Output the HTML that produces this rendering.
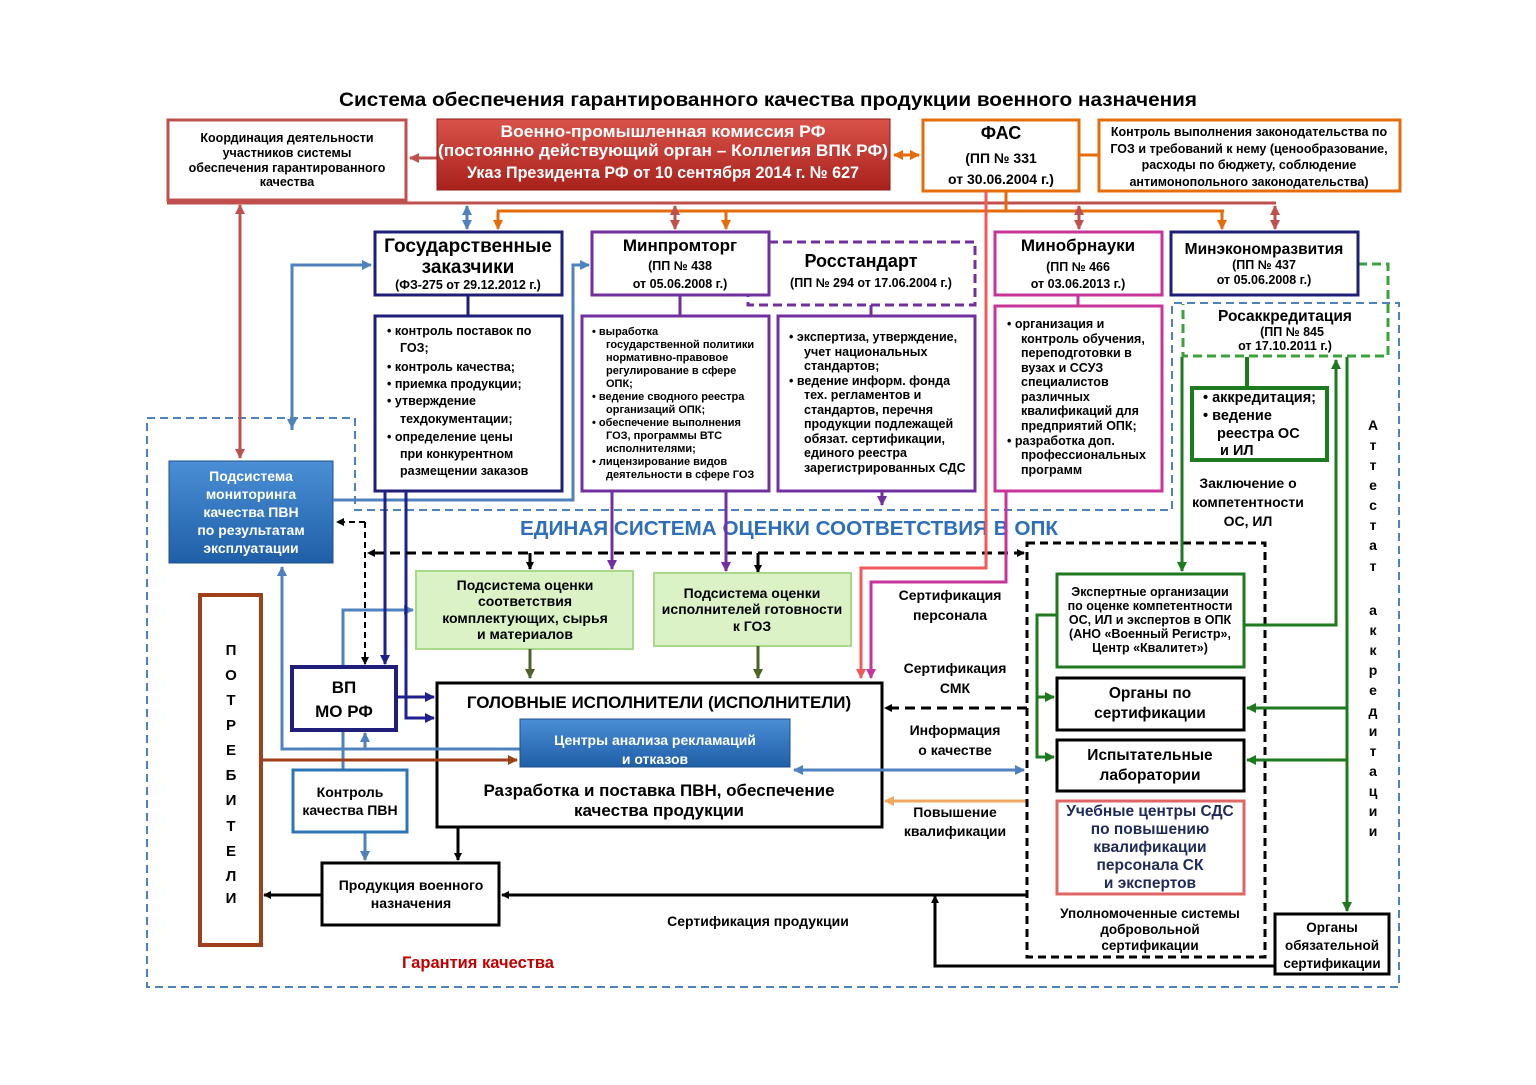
<!DOCTYPE html>
<html><head><meta charset="utf-8"><style>
html,body{margin:0;padding:0;background:#fff;}
svg{display:block;font-family:"Liberation Sans Narrow","Liberation Sans",sans-serif;font-weight:bold;}
text{text-anchor:middle;}
.l{text-anchor:start;}
</style></head><body>
<svg width="1536" height="1085" viewBox="0 0 1536 1085" xmlns="http://www.w3.org/2000/svg">
<defs>
<linearGradient id="gr" x1="0" y1="0" x2="0" y2="1"><stop offset="0" stop-color="#d9534a"/><stop offset="1" stop-color="#a8211c"/></linearGradient>
<linearGradient id="gb" x1="0" y1="0" x2="0" y2="1"><stop offset="0" stop-color="#4a8fd6"/><stop offset="1" stop-color="#1f5fa8"/></linearGradient>
<marker id="mk" markerWidth="8" markerHeight="8" refX="7" refY="4" orient="auto-start-reverse" markerUnits="userSpaceOnUse"><path d="M0,0 L8,4 L0,8 Z" fill="#000"/></marker>
<marker id="mb" markerWidth="10" markerHeight="10" refX="9" refY="5" orient="auto-start-reverse" markerUnits="userSpaceOnUse"><path d="M0,0 L10,5 L0,10 Z" fill="#4f81bd"/></marker>
<marker id="mn" markerWidth="10" markerHeight="10" refX="9" refY="5" orient="auto-start-reverse" markerUnits="userSpaceOnUse"><path d="M0,0 L10,5 L0,10 Z" fill="#1f1f8f"/></marker>
<marker id="mr" markerWidth="10" markerHeight="10" refX="9" refY="5" orient="auto-start-reverse" markerUnits="userSpaceOnUse"><path d="M0,0 L10,5 L0,10 Z" fill="#c0504d"/></marker>
<marker id="mo" markerWidth="10" markerHeight="10" refX="9" refY="5" orient="auto-start-reverse" markerUnits="userSpaceOnUse"><path d="M0,0 L10,5 L0,10 Z" fill="#e46c0a"/></marker>
<marker id="mp" markerWidth="10" markerHeight="10" refX="9" refY="5" orient="auto-start-reverse" markerUnits="userSpaceOnUse"><path d="M0,0 L10,5 L0,10 Z" fill="#7030a0"/></marker>
<marker id="mm" markerWidth="10" markerHeight="10" refX="9" refY="5" orient="auto-start-reverse" markerUnits="userSpaceOnUse"><path d="M0,0 L10,5 L0,10 Z" fill="#c8359a"/></marker>
<marker id="mpk" markerWidth="10" markerHeight="10" refX="9" refY="5" orient="auto-start-reverse" markerUnits="userSpaceOnUse"><path d="M0,0 L10,5 L0,10 Z" fill="#f05a5a"/></marker>
<marker id="mg" markerWidth="10" markerHeight="10" refX="9" refY="5" orient="auto-start-reverse" markerUnits="userSpaceOnUse"><path d="M0,0 L10,5 L0,10 Z" fill="#1e7a1e"/></marker>
<marker id="mol" markerWidth="10" markerHeight="10" refX="9" refY="5" orient="auto-start-reverse" markerUnits="userSpaceOnUse"><path d="M0,0 L10,5 L0,10 Z" fill="#4f6228"/></marker>
<marker id="mbr" markerWidth="10" markerHeight="10" refX="9" refY="5" orient="auto-start-reverse" markerUnits="userSpaceOnUse"><path d="M0,0 L10,5 L0,10 Z" fill="#a0401a"/></marker>
<marker id="mlo" markerWidth="10" markerHeight="10" refX="9" refY="5" orient="auto-start-reverse" markerUnits="userSpaceOnUse"><path d="M0,0 L10,5 L0,10 Z" fill="#f0a860"/></marker>
</defs>

<text x="768" y="106" font-size="19" textLength="858" lengthAdjust="spacingAndGlyphs">Система обеспечения гарантированного качества продукции военного назначения</text>

<path d="M147,418 H355 V510 H1172 V303 H1399 V987 H147 Z" fill="none" stroke="#4f81bd" stroke-width="2" stroke-dasharray="8,5"/>

<line x1="167" y1="203" x2="1276" y2="203" stroke="#c0504d" stroke-width="3"/>
<line x1="497" y1="211" x2="1224" y2="211" stroke="#e46c0a" stroke-width="3"/>
<line x1="1006" y1="191" x2="1006" y2="211" stroke="#e46c0a" stroke-width="3"/>
<line x1="467" y1="206" x2="467" y2="229" stroke="#4f81bd" stroke-width="3" marker-end="url(#mb)" marker-start="url(#mb)"/>
<line x1="675" y1="206" x2="675" y2="229" stroke="#c0504d" stroke-width="3" marker-end="url(#mr)" marker-start="url(#mr)"/>
<line x1="1079" y1="206" x2="1079" y2="229" stroke="#c0504d" stroke-width="3" marker-end="url(#mr)" marker-start="url(#mr)"/>
<line x1="1275" y1="206" x2="1275" y2="229" stroke="#c0504d" stroke-width="3" marker-end="url(#mr)" marker-start="url(#mr)"/>
<line x1="498" y1="211" x2="498" y2="229" stroke="#e46c0a" stroke-width="3" marker-end="url(#mo)"/>
<line x1="726" y1="211" x2="726" y2="229" stroke="#e46c0a" stroke-width="3" marker-end="url(#mo)"/>
<line x1="1222" y1="211" x2="1222" y2="229" stroke="#e46c0a" stroke-width="3" marker-end="url(#mo)"/>
<line x1="437" y1="158" x2="410" y2="158" stroke="#c0504d" stroke-width="3" marker-end="url(#mr)"/>
<line x1="894" y1="155" x2="919" y2="155" stroke="#e46c0a" stroke-width="3" marker-end="url(#mo)" marker-start="url(#mo)"/>
<line x1="1079" y1="155" x2="1099" y2="155" stroke="#e46c0a" stroke-width="3"/>
<line x1="240" y1="205" x2="240" y2="458" stroke="#c0504d" stroke-width="3" marker-end="url(#mr)" marker-start="url(#mr)"/>

<rect x="168" y="120" width="238" height="80" fill="#fff" stroke="#c0504d" stroke-width="3"/>
<text x="287" y="142" font-size="12.5">Координация деятельности</text>
<text x="287" y="157" font-size="12.5">участников системы</text>
<text x="287" y="172" font-size="12.5">обеспечения гарантированного</text>
<text x="287" y="186" font-size="12.5">качества</text>

<rect x="437" y="119" width="453" height="71" fill="url(#gr)" stroke="#8c1a16" stroke-width="1"/>
<text x="663" y="137" font-size="17" fill="#fff" textLength="325" lengthAdjust="spacingAndGlyphs">Военно-промышленная комиссия РФ</text>
<text x="663" y="156" font-size="17" fill="#fff" textLength="450" lengthAdjust="spacingAndGlyphs">(постоянно действующий орган – Коллегия ВПК РФ)</text>
<text x="663" y="178" font-size="17" fill="#fff" textLength="392" lengthAdjust="spacingAndGlyphs">Указ Президента РФ от 10 сентября 2014 г. № 627</text>

<rect x="923" y="120" width="156" height="71" fill="#fff" stroke="#e46c0a" stroke-width="3"/>
<text x="1001" y="139" font-size="18">ФАС</text>
<text x="1001" y="163" font-size="14">(ПП № 331</text>
<text x="1001" y="184" font-size="14">от 30.06.2004 г.)</text>

<rect x="1099" y="120" width="301" height="71" fill="#fff" stroke="#e46c0a" stroke-width="3"/>
<text x="1249" y="136" font-size="12.5">Контроль выполнения законодательства по</text>
<text x="1249" y="153" font-size="12.5">ГОЗ и требований к нему (ценообразование,</text>
<text x="1249" y="169" font-size="12.5">расходы по  бюджету, соблюдение</text>
<text x="1249" y="186" font-size="12.5">антимонопольного законодательства)</text>

<rect x="375" y="232" width="187" height="63" fill="#fff" stroke="#1f1f7a" stroke-width="3"/>
<text x="468" y="252" font-size="19">Государственные</text>
<text x="468" y="273" font-size="19">заказчики</text>
<text x="468" y="289" font-size="12.5">(ФЗ-275 от 29.12.2012 г.)</text>

<path d="M769,242 H975 V305 H748 V295" fill="none" stroke="#7030a0" stroke-width="3" stroke-dasharray="9,5"/>
<rect x="592" y="232" width="177" height="63" fill="#fff" stroke="#7030a0" stroke-width="3"/>
<text x="680" y="251" font-size="17">Минпромторг</text>
<text x="680" y="270" font-size="12.5">(ПП № 438</text>
<text x="680" y="288" font-size="12.5">от 05.06.2008 г.)</text>
<text x="861" y="267" font-size="18">Росстандарт</text>
<text x="871" y="287" font-size="12.5">(ПП № 294 от 17.06.2004 г.)</text>

<rect x="995" y="232" width="167" height="63" fill="#fff" stroke="#c8359a" stroke-width="3"/>
<text x="1078" y="251" font-size="17">Минобрнауки</text>
<text x="1078" y="271" font-size="12.5">(ПП № 466</text>
<text x="1078" y="288" font-size="12.5">от 03.06.2013 г.)</text>

<path d="M1358,264 H1388 V356 H1183 V304" fill="none" stroke="#3aa33a" stroke-width="3" stroke-dasharray="9,5"/>
<rect x="1171" y="232" width="187" height="63" fill="#fff" stroke="#1f1f7a" stroke-width="3"/>
<text x="1264" y="254" font-size="15.5">Минэкономразвития</text>
<text x="1264" y="269" font-size="12.5">(ПП № 437</text>
<text x="1264" y="284" font-size="12.5">от 05.06.2008 г.)</text>
<text x="1285" y="321" font-size="15.5">Росаккредитация</text>
<text x="1292" y="336" font-size="12.5">(ПП № 845</text>
<text x="1285" y="350" font-size="12.5">от 17.10.2011 г.)</text>

<line x1="468" y1="295" x2="468" y2="316" stroke="#1f1f7a" stroke-width="3"/>
<line x1="680" y1="295" x2="680" y2="316" stroke="#7030a0" stroke-width="3"/>
<line x1="871" y1="305" x2="871" y2="316" stroke="#7030a0" stroke-width="3"/>
<line x1="1078" y1="295" x2="1078" y2="306" stroke="#c8359a" stroke-width="3"/>
<line x1="1247" y1="357" x2="1247" y2="388" stroke="#1e7a1e" stroke-width="4"/>

<rect x="375" y="316" width="187" height="175" fill="#fff" stroke="#1f1f7a" stroke-width="3"/>
<g font-size="12.5">
<text class="l" x="387" y="335">•  контроль поставок по</text>
<text class="l" x="400" y="352">ГОЗ;</text>
<text class="l" x="387" y="371">•  контроль качества;</text>
<text class="l" x="387" y="388">•  приемка продукции;</text>
<text class="l" x="387" y="405">•   утверждение</text>
<text class="l" x="400" y="423">техдокументации;</text>
<text class="l" x="387" y="441">•   определение цены</text>
<text class="l" x="400" y="458">при конкурентном</text>
<text class="l" x="400" y="475">размещении заказов</text>
</g>

<rect x="582" y="316" width="187" height="175" fill="#fff" stroke="#7030a0" stroke-width="3"/>
<g font-size="11">
<text class="l" x="592" y="335">•  выработка</text>
<text class="l" x="606" y="348">государственной политики</text>
<text class="l" x="606" y="361">нормативно-правовое</text>
<text class="l" x="606" y="374">регулирование в сфере</text>
<text class="l" x="606" y="387">ОПК;</text>
<text class="l" x="592" y="400">•  ведение сводного реестра</text>
<text class="l" x="606" y="413">организаций ОПК;</text>
<text class="l" x="592" y="426">•  обеспечение выполнения</text>
<text class="l" x="606" y="439">ГОЗ, программы ВТС</text>
<text class="l" x="606" y="452">исполнителями;</text>
<text class="l" x="592" y="465">•  лицензирование видов</text>
<text class="l" x="606" y="478">деятельности в сфере ГОЗ</text>
</g>

<rect x="778" y="316" width="197" height="175" fill="#fff" stroke="#7030a0" stroke-width="3"/>
<g font-size="12.5">
<text class="l" x="789" y="341">•  экспертиза, утверждение,</text>
<text class="l" x="804" y="356">учет национальных</text>
<text class="l" x="804" y="370">стандартов;</text>
<text class="l" x="789" y="385">•  ведение информ. фонда</text>
<text class="l" x="804" y="399">тех. регламентов и</text>
<text class="l" x="804" y="414">стандартов, перечня</text>
<text class="l" x="804" y="428">продукции подлежащей</text>
<text class="l" x="804" y="443">обязат. сертификации,</text>
<text class="l" x="804" y="457">единого реестра</text>
<text class="l" x="804" y="472">зарегистрированных СДС</text>
</g>

<rect x="995" y="306" width="167" height="185" fill="#fff" stroke="#c8359a" stroke-width="3"/>
<g font-size="12.5">
<text class="l" x="1007" y="328">•  организация и</text>
<text class="l" x="1021" y="343">контроль обучения,</text>
<text class="l" x="1021" y="357">переподготовки в</text>
<text class="l" x="1021" y="372">вузах и ССУЗ</text>
<text class="l" x="1021" y="386">специалистов</text>
<text class="l" x="1021" y="401">различных</text>
<text class="l" x="1021" y="415">квалификаций для</text>
<text class="l" x="1021" y="430">предприятий ОПК;</text>
<text class="l" x="1007" y="445">•  разработка доп.</text>
<text class="l" x="1021" y="459">профессиональных</text>
<text class="l" x="1021" y="474">программ</text>
</g>

<rect x="1192" y="388" width="135" height="72" fill="#fff" stroke="#1e7a1e" stroke-width="4"/>
<g font-size="14.5">
<text class="l" x="1203" y="402">•  аккредитация;</text>
<text class="l" x="1203" y="420">•  ведение</text>
<text class="l" x="1217" y="438">реестра ОС</text>
<text class="l" x="1220" y="455">и ИЛ</text>
</g>
<text x="1248" y="488" font-size="14">Заключение о</text>
<text x="1248" y="507" font-size="14">компетентности</text>
<text x="1248" y="526" font-size="14">ОС, ИЛ</text>

<g font-size="14">
<text x="1373" y="430">А</text><text x="1373" y="450">т</text><text x="1373" y="470">т</text><text x="1373" y="490">е</text><text x="1373" y="510">с</text><text x="1373" y="530">т</text><text x="1373" y="550">а</text><text x="1373" y="571">т</text>
<text x="1373" y="615">а</text><text x="1373" y="635">к</text><text x="1373" y="655">к</text><text x="1373" y="675">р</text><text x="1373" y="695">е</text><text x="1373" y="716">д</text><text x="1373" y="736">и</text><text x="1373" y="756">т</text><text x="1373" y="776">а</text><text x="1373" y="796">ц</text><text x="1373" y="816">и</text><text x="1373" y="836">и</text>
</g>

<rect x="169" y="461" width="164" height="102" fill="url(#gb)" stroke="#1f4f8a" stroke-width="1"/>
<g font-size="14" fill="#fff">
<text x="251" y="481">Подсистема</text>
<text x="251" y="499">мониторинга</text>
<text x="251" y="517">качества ПВН</text>
<text x="251" y="535">по результатам</text>
<text x="251" y="553">эксплуатации</text>
</g>

<text x="789" y="535" font-size="20" fill="#2e6fb8" textLength="538" lengthAdjust="spacingAndGlyphs">ЕДИНАЯ  СИСТЕМА  ОЦЕНКИ  СООТВЕТСТВИЯ  В  ОПК</text>

<path d="M292,430 V265 H371" fill="none" stroke="#4f81bd" stroke-width="3" marker-end="url(#mb)"/>
<line x1="292" y1="268" x2="292" y2="428" stroke="#4f81bd" stroke-width="3" marker-end="url(#mb)"/>
<path d="M333,500 H573 V265 H589" fill="none" stroke="#4f81bd" stroke-width="3" marker-end="url(#mb)"/>
<path d="M343,667 V610 H413" fill="none" stroke="#4f81bd" stroke-width="3" marker-end="url(#mb)"/>
<line x1="343" y1="731" x2="343" y2="769" stroke="#4f81bd" stroke-width="3"/>
<line x1="365" y1="833" x2="365" y2="860" stroke="#4f81bd" stroke-width="3" marker-end="url(#mb)"/>

<line x1="385" y1="491" x2="385" y2="664" stroke="#1f1f8f" stroke-width="3" marker-end="url(#mn)"/>
<path d="M406,491 V718 H434" fill="none" stroke="#1f1f8f" stroke-width="3" marker-end="url(#mn)"/>
<line x1="396" y1="697" x2="434" y2="697" stroke="#1f1f8f" stroke-width="3" marker-end="url(#mn)"/>

<line x1="1024" y1="553" x2="368" y2="553" stroke="#000" stroke-width="3" stroke-dasharray="10,6" marker-end="url(#mk)" marker-start="url(#mk)"/>
<path d="M365,522 H337" fill="none" stroke="#000" stroke-width="2" stroke-dasharray="6,4" marker-end="url(#mk)"/>
<line x1="365" y1="522" x2="365" y2="664" stroke="#000" stroke-width="2" stroke-dasharray="6,4" marker-end="url(#mk)"/>
<line x1="530" y1="553" x2="530" y2="569" stroke="#000" stroke-width="3" marker-end="url(#mk)"/>
<line x1="758" y1="553" x2="758" y2="572" stroke="#000" stroke-width="3" marker-end="url(#mk)"/>
<line x1="1027" y1="708" x2="885" y2="708" stroke="#000" stroke-width="3" stroke-dasharray="10,6" marker-end="url(#mk)"/>

<line x1="612" y1="491" x2="612" y2="569" stroke="#7030a0" stroke-width="3" marker-end="url(#mp)"/>
<line x1="726" y1="491" x2="726" y2="571" stroke="#7030a0" stroke-width="3" marker-end="url(#mp)"/>
<line x1="882" y1="491" x2="882" y2="505" stroke="#7030a0" stroke-width="3" marker-end="url(#mp)"/>
<path d="M1006,491 V582 H871 V678" fill="none" stroke="#c8359a" stroke-width="3" marker-end="url(#mm)"/>
<path d="M986,191 V568 H861 V678" fill="none" stroke="#f05a5a" stroke-width="3" marker-end="url(#mpk)"/>

<rect x="416" y="571" width="217" height="78" fill="#dbf2c6" stroke="#a8d88a" stroke-width="2"/>
<g font-size="14">
<text x="525" y="590">Подсистема оценки</text>
<text x="525" y="606">соответствия</text>
<text x="525" y="623">комплектующих, сырья</text>
<text x="525" y="639">и материалов</text>
</g>
<rect x="654" y="573" width="197" height="73" fill="#dbf2c6" stroke="#a8d88a" stroke-width="2"/>
<g font-size="14">
<text x="752" y="598">Подсистема оценки</text>
<text x="752" y="614">исполнителей готовности</text>
<text x="752" y="631">к ГОЗ</text>
</g>
<line x1="530" y1="649" x2="530" y2="678" stroke="#4f6228" stroke-width="3" marker-end="url(#mol)"/>
<line x1="758" y1="646" x2="758" y2="678" stroke="#4f6228" stroke-width="3" marker-end="url(#mol)"/>

<rect x="292" y="667" width="104" height="63" fill="#fff" stroke="#1f1f7a" stroke-width="4"/>
<text x="344" y="693" font-size="17">ВП</text>
<text x="344" y="717" font-size="17">МО РФ</text>
<rect x="293" y="770" width="114" height="62" fill="#fff" stroke="#2e75b6" stroke-width="3"/>
<text x="350" y="797" font-size="14">Контроль</text>
<text x="350" y="815" font-size="14">качества ПВН</text>

<rect x="200" y="595" width="61" height="350" fill="#fff" stroke="#a0401a" stroke-width="4"/>
<g font-size="15">
<text x="231" y="655">П</text><text x="231" y="680">О</text><text x="231" y="705">Т</text><text x="231" y="730">Р</text><text x="231" y="755">Е</text><text x="231" y="780">Б</text><text x="231" y="805">И</text><text x="231" y="831">Т</text><text x="231" y="856">Е</text><text x="231" y="881">Л</text><text x="231" y="903">И</text>
</g>

<rect x="437" y="683" width="445" height="144" fill="#fff" stroke="#000" stroke-width="3"/>
<text x="659" y="708" font-size="17">ГОЛОВНЫЕ ИСПОЛНИТЕЛИ (ИСПОЛНИТЕЛИ)</text>
<path d="M520,749 H282 V567" fill="none" stroke="#4f81bd" stroke-width="3" marker-end="url(#mb)"/>
<line x1="365" y1="749" x2="365" y2="733" stroke="#4f81bd" stroke-width="3" marker-end="url(#mb)"/>
<line x1="261" y1="760" x2="517" y2="760" stroke="#a0401a" stroke-width="3" marker-end="url(#mbr)"/>
<rect x="520" y="719" width="270" height="48" fill="url(#gb)" stroke="#1f4f8a" stroke-width="1"/>
<text x="655" y="745" font-size="14" fill="#fff">Центры анализа рекламаций</text>
<text x="655" y="764" font-size="14" fill="#fff">и отказов</text>
<text x="659" y="796" font-size="17">Разработка и поставка ПВН, обеспечение</text>
<text x="659" y="816" font-size="17">качества продукции</text>

<line x1="794" y1="770" x2="1024" y2="770" stroke="#4f81bd" stroke-width="3" marker-end="url(#mb)" marker-start="url(#mb)"/>
<line x1="1027" y1="801" x2="885" y2="801" stroke="#f0a860" stroke-width="3" marker-end="url(#mlo)"/>
<line x1="458" y1="827" x2="458" y2="860" stroke="#000" stroke-width="3" marker-end="url(#mk)"/>

<g font-size="14">
<text x="950" y="600">Сертификация</text>
<text x="950" y="620">персонала</text>
<text x="955" y="673">Сертификация</text>
<text x="955" y="693">СМК</text>
<text x="955" y="735">Информация</text>
<text x="955" y="755">о качестве</text>
<text x="955" y="817">Повышение</text>
<text x="955" y="836">квалификации</text>
<text x="758" y="926">Сертификация продукции</text>
</g>
<text x="478" y="968" font-size="16.5" fill="#c00000">Гарантия качества</text>

<rect x="322" y="863" width="177" height="62" fill="#fff" stroke="#000" stroke-width="3"/>
<text x="411" y="890" font-size="14">Продукция военного</text>
<text x="411" y="908" font-size="14">назначения</text>
<line x1="322" y1="895" x2="264" y2="895" stroke="#000" stroke-width="3" marker-end="url(#mk)"/>
<line x1="1027" y1="895" x2="502" y2="895" stroke="#000" stroke-width="3" marker-end="url(#mk)"/>
<path d="M1275,966 H935 V896" fill="none" stroke="#000" stroke-width="3" marker-end="url(#mk)"/>

<rect x="1027" y="543" width="238" height="414" fill="none" stroke="#000" stroke-width="3" stroke-dasharray="8,5"/>
<rect x="1057" y="574" width="187" height="93" fill="#fff" stroke="#1e7a1e" stroke-width="3"/>
<g font-size="12.5">
<text x="1150" y="596">Экспертные организации</text>
<text x="1150" y="610">по оценке компетентности</text>
<text x="1150" y="624">ОС, ИЛ и экспертов в ОПК</text>
<text x="1150" y="638">(АНО «Военный Регистр»,</text>
<text x="1150" y="652">Центр «Квалитет»)</text>
</g>
<rect x="1057" y="678" width="187" height="52" fill="#fff" stroke="#000" stroke-width="3"/>
<text x="1150" y="698" font-size="15.5">Органы по</text>
<text x="1150" y="718" font-size="15.5">сертификации</text>
<rect x="1057" y="740" width="187" height="51" fill="#fff" stroke="#000" stroke-width="3"/>
<text x="1150" y="760" font-size="15.5">Испытательные</text>
<text x="1150" y="780" font-size="15.5">лаборатории</text>
<rect x="1057" y="801" width="187" height="93" fill="#fff" stroke="#e06666" stroke-width="3"/>
<g font-size="15.5" fill="#1f2a5a">
<text x="1150" y="816">Учебные центры СДС</text>
<text x="1150" y="834">по повышению</text>
<text x="1150" y="852">квалификации</text>
<text x="1150" y="870">персонала СК</text>
<text x="1150" y="888">и экспертов</text>
</g>
<g font-size="13.5">
<text x="1150" y="918">Уполномоченные системы</text>
<text x="1150" y="934">добровольной</text>
<text x="1150" y="950">сертификации</text>
</g>
<rect x="1275" y="914" width="114" height="60" fill="#fff" stroke="#000" stroke-width="3"/>
<text x="1332" y="932" font-size="13.5">Органы</text>
<text x="1332" y="950" font-size="13.5">обязательной</text>
<text x="1332" y="968" font-size="13.5">сертификации</text>

<line x1="1182" y1="357" x2="1182" y2="571" stroke="#1e7a1e" stroke-width="3" marker-end="url(#mg)"/>
<path d="M1244,625 H1336 V360" fill="none" stroke="#1e7a1e" stroke-width="3" marker-end="url(#mg)"/>
<line x1="1347" y1="357" x2="1347" y2="911" stroke="#1e7a1e" stroke-width="3" marker-end="url(#mg)"/>
<line x1="1347" y1="708" x2="1247" y2="708" stroke="#1e7a1e" stroke-width="3" marker-end="url(#mg)"/>
<line x1="1347" y1="760" x2="1247" y2="760" stroke="#1e7a1e" stroke-width="3" marker-end="url(#mg)"/>
<path d="M1057,615 H1037 V757 H1054" fill="none" stroke="#1e7a1e" stroke-width="3" marker-end="url(#mg)"/>
<line x1="1037" y1="697" x2="1054" y2="697" stroke="#1e7a1e" stroke-width="3" marker-end="url(#mg)"/>
</svg>
</body></html>
